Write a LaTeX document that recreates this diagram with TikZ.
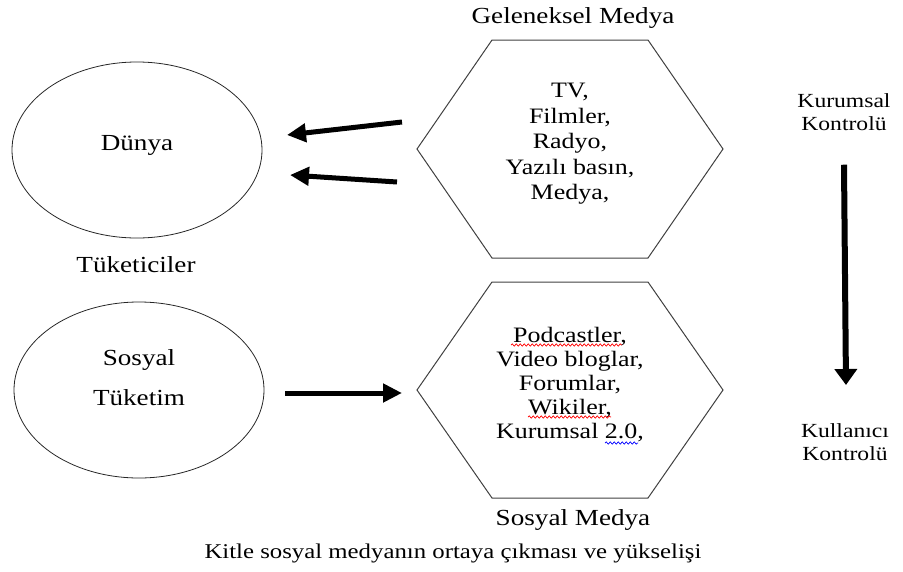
\documentclass[tikz,border=0pt]{standalone}
\usepackage{fontspec}
\setmainfont{Liberation Serif}[FakeStretch=1.18]
\usetikzlibrary{arrows.meta,calc,decorations.pathmorphing,shapes.geometric}

\tikzset{
  bubble/.style={draw=black!85, line width=0.8pt, ellipse, minimum width=250pt, minimum height=176pt, inner sep=0pt},
  txt/.style={font=\fontsize{23}{25.5}\selectfont, inner sep=0pt, align=center},
  hexline/.style={draw=black!75, line width=1pt, line join=miter},
  bigarrow/.style={line width=5pt, -{Triangle[length=19pt,width=18pt]}},
  squiggle/.style={decorate, decoration={snake, amplitude=1.1pt, segment length=4pt}, line width=0.7pt}
}

\begin{document}
\begin{tikzpicture}[x=1pt, y=-1pt]
    \useasboundingbox (0,0) rectangle (903,571);

    % Consumers
    \node[bubble] (world) at (137,150) {};
    \node[txt] (worldtxt) at (137,145) {Dünya};
    \node[txt] (consumers) at (136,265) {Tüketiciler};

    \node[bubble] (social) at (139,390) {};
    \node[txt] (socialtxt) at (139,360) {Sosyal};
    \node[txt] (consume) at (139,398) {Tüketim};

    % Traditional media
    \coordinate (trad) at (570,149);
    \draw[hexline] ($(trad)+(-153,0)$) -- ($(trad)+(-78,-109)$) -- ($(trad)+(78,-109)$)
        -- ($(trad)+(153,0)$) -- ($(trad)+(78,109)$) -- ($(trad)+(-78,109)$) -- cycle;
    \node[txt, font=\fontsize{22}{25.5}\selectfont] (tradlist) at (570,144) {TV,\\ Filmler,\\ Radyo,\\ Yazılı basın,\\ Medya,};
    \node[txt] (tradtitle) at (573,18) {Geleneksel Medya};

    % Social media
    \coordinate (soc) at (570,390);
    \draw[hexline] ($(soc)+(-153,0)$) -- ($(soc)+(-78,-108)$) -- ($(soc)+(78,-108)$)
        -- ($(soc)+(153,0)$) -- ($(soc)+(78,108)$) -- ($(soc)+(-78,108)$) -- cycle;
    \node[txt, font=\fontsize{22}{24}\selectfont] (soclist) at (570,385)
        {Podcastler,\\ Video bloglar,\\ Forumlar,\\ Wikiler,\\ Kurumsal 2.0,};
    \node[txt] (soctitle) at (573,520) {Sosyal Medya};

    % spell-check marks
    \draw[squiggle, red] ($(soc)+(-59,-45)$) -- ($(soc)+(52,-45)$);
    \draw[squiggle, red] ($(soc)+(-42,27)$) -- ($(soc)+(41,27)$);
    \draw[squiggle, blue] ($(soc)+(35,53)$) -- ($(soc)+(68,53)$);

    % Control
    \node[txt, font=\fontsize{20}{23}\selectfont] (inst) at (844,112) {Kurumsal\\ Kontrolü};
    \node[txt, font=\fontsize{20}{23}\selectfont] (user) at (845,442) {Kullanıcı\\ Kontrolü};

    % Arrows
    \coordinate (t1) at (402,122);
    \coordinate (w1) at (287,135);
    \coordinate (t2) at (397,182);
    \coordinate (w2) at (290,175);
    \coordinate (s1) at (285,393);
    \coordinate (m1) at (402,393);
    \draw[bigarrow] (t1) -- (w1);
    \draw[bigarrow] (t2) -- (w2);
    \draw[bigarrow] (s1) -- (m1);
    \draw[line width=6pt, -{Triangle[length=16pt,width=22pt]}] (inst.south) ++(0,34) -- (846,385);

    % Caption
    \node[txt, font=\fontsize{21}{25}\selectfont] (caption) at (453,553) {Kitle sosyal medyanın ortaya çıkması ve yükselişi};
\end{tikzpicture}
\end{document}
